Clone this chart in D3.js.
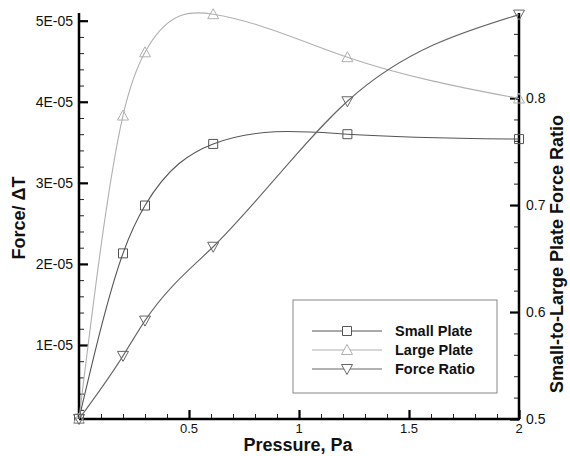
<!DOCTYPE html>
<meta charset="utf-8">
<script src="https://d3js.org/d3.v7.min.js"></script>
<style>
   body {
      background-color: white;
      margin: 0;
      padding: 0;
   }
   svg text {
      font-family: "Liberation Sans", Arial, sans-serif;
      fill: #111;
   }
</style>
<body>
<svg id="chart" width="570" height="456"></svg>
<script>

   // values
   var pressure = [0, 0.2, 0.3, 0.61, 1.22, 2];
   var smallPlate = [0.09e-5, 2.13e-5, 2.72e-5, 3.48e-5, 3.60e-5, 3.54e-5];
   var largePlate = [0.09e-5, 3.83e-5, 4.61e-5, 5.08e-5, 4.55e-5, 4.04e-5];
   var forceRatio = [0.5, 0.559, 0.592, 0.661, 0.797, 0.878];

   var xTicks = [0.5, 1, 1.5, 2];
   var yLeftTicks = [1e-5, 2e-5, 3e-5, 4e-5, 5e-5];
   var yLeftLabels = ["1E-05", "2E-05", "3E-05", "4E-05", "5E-05"];
   var yRightTicks = [0.5, 0.6, 0.7, 0.8];
   var legendNames = ["Small Plate", "Large Plate", "Force Ratio"];

   var svg = d3.select("#chart");
   var pLeft = 79, pRight = 519, pTop = 13, pBottom = 419;

   var x = d3.scaleLinear().domain([0, 2]).range([pLeft, pRight]);
   var yL = d3.scaleLinear().domain([0.087e-5, 5.095e-5]).range([pBottom, pTop]);
   var yR = d3.scaleLinear().domain([0.5, 0.8795]).range([pBottom, pTop]);

   // cubic spline in x (like the plotting program's spline), as a d3 curve
   function splineX(context) {
      var xs, ys;
      return {
         lineStart: function () { xs = []; ys = []; },
         lineEnd: function () {
            var n = xs.length, i;
            var h = [], M = new Array(n).fill(0);
            for (i = 0; i < n - 1; i++) h.push(xs[i + 1] - xs[i]);
            // tridiagonal solve for second derivatives, natural ends
            var a = [], b = [], c = [], r = [];
            for (i = 1; i < n - 1; i++) {
               a.push(h[i - 1]); b.push(2 * (h[i - 1] + h[i])); c.push(h[i]);
               r.push(6 * ((ys[i + 1] - ys[i]) / h[i] - (ys[i] - ys[i - 1]) / h[i - 1]));
            }
            var m = b.length;
            for (i = 1; i < m; i++) {
               var w = a[i] / b[i - 1];
               b[i] -= w * c[i - 1]; r[i] -= w * r[i - 1];
            }
            var sol = new Array(m);
            for (i = m - 1; i >= 0; i--) sol[i] = (r[i] - (i < m - 1 ? c[i] * sol[i + 1] : 0)) / b[i];
            for (i = 0; i < m; i++) M[i + 1] = sol[i];
            context.moveTo(xs[0], ys[0]);
            for (i = 0; i < n - 1; i++) {
               var s = (ys[i + 1] - ys[i]) / h[i];
               var d0 = s - h[i] * (2 * M[i] + M[i + 1]) / 6;
               var d1 = s + h[i] * (M[i] + 2 * M[i + 1]) / 6;
               context.bezierCurveTo(xs[i] + h[i] / 3, ys[i] + d0 * h[i] / 3,
                  xs[i + 1] - h[i] / 3, ys[i + 1] - d1 * h[i] / 3, xs[i + 1], ys[i + 1]);
            }
         },
         point: function (px, py) { xs.push(px); ys.push(py); },
         areaStart: function () {}, areaEnd: function () {}
      };
   }

   // axes, ticks pointing inward
   svg.append("g").attr("class", "minor").attr("transform", "translate(0," + pBottom + ")")
      .call(d3.axisTop(x).tickValues(d3.range(0, 2.001, 0.1)).tickSize(5).tickFormat(""));
   svg.append("g").attr("class", "major").attr("transform", "translate(0," + pBottom + ")")
      .call(d3.axisTop(x).tickValues([0, 0.5, 1, 1.5, 2]).tickSize(9).tickFormat(""));

   svg.append("g").attr("class", "minor").attr("transform", "translate(" + pLeft + ",0)")
      .call(d3.axisRight(yL).tickValues(d3.range(2e-6, 5.01e-5, 2e-6)).tickSize(5).tickFormat(""));
   svg.append("g").attr("class", "major").attr("transform", "translate(" + pLeft + ",0)")
      .call(d3.axisRight(yL).tickValues(yLeftTicks).tickSize(9).tickFormat(""));

   svg.append("g").attr("class", "minor").attr("transform", "translate(" + pRight + ",0)")
      .call(d3.axisLeft(yR).tickValues(d3.range(0.52, 0.88, 0.02)).tickSize(5).tickFormat(""));
   svg.append("g").attr("class", "major").attr("transform", "translate(" + pRight + ",0)")
      .call(d3.axisLeft(yR).tickValues(yRightTicks).tickSize(9).tickFormat(""));

   svg.selectAll(".domain").remove();
   svg.selectAll(".minor .tick line").attr("stroke", "#222").attr("stroke-width", 1);
   svg.selectAll(".major .tick line").attr("stroke", "#000").attr("stroke-width", 2.2);

   // axis lines
   svg.append("line").attr("x1", pLeft).attr("x2", pRight + 1).attr("y1", pBottom).attr("y2", pBottom)
      .attr("stroke", "#000").attr("stroke-width", 2.5);
   svg.append("line").attr("x1", pLeft).attr("x2", pLeft).attr("y1", pTop).attr("y2", pBottom)
      .attr("stroke", "#000").attr("stroke-width", 2.5);
   svg.append("line").attr("x1", pRight).attr("x2", pRight).attr("y1", pTop).attr("y2", pBottom)
      .attr("stroke", "#000").attr("stroke-width", 2.5);

   // tick labels
   svg.selectAll(".xl").data(xTicks).enter().append("text")
      .attr("x", function (d) { return x(d); }).attr("y", pBottom + 14)
      .attr("text-anchor", "middle").attr("font-size", 13).text(function (d) { return d; });
   svg.selectAll(".yl").data(yLeftTicks).enter().append("text")
      .attr("x", pLeft - 6).attr("y", function (d) { return yL(d) + 5; })
      .attr("text-anchor", "end").attr("font-size", 14)
      .text(function (d, i) { return yLeftLabels[i]; });
   svg.selectAll(".yr").data(yRightTicks).enter().append("text")
      .attr("x", pRight + 7).attr("y", function (d) { return yR(d) + 5; })
      .attr("font-size", 14).text(function (d) { return d; });

   // axis titles
   svg.append("text").attr("x", 298).attr("y", 451).attr("text-anchor", "middle")
      .attr("font-size", 18).attr("font-weight", "bold").text("Pressure, Pa");
   svg.append("text").attr("transform", "translate(25,218) rotate(-90)").attr("text-anchor", "middle")
      .attr("font-size", 18).attr("font-weight", "bold").text("Force/ \u0394T");
   svg.append("text").attr("transform", "translate(563,254) rotate(-90)").attr("text-anchor", "middle")
      .attr("font-size", 18).attr("font-weight", "bold").text("Small-to-Large Plate Force Ratio");

   var series = [
      { vals: smallPlate, y: yL, color: "#555", marker: "square" },
      { vals: largePlate, y: yL, color: "#b0b0b0", marker: "up" },
      { vals: forceRatio, y: yR, color: "#666", marker: "down" }
   ];

   function markerPath(type) {
      if (type == "square") return "M-4.5,-4.5H4.5V4.5H-4.5Z";
      if (type == "up") return "M0,-5.5L5.5,4.5H-5.5Z";
      return "M0,5.5L5.5,-4.5H-5.5Z";
   }

   series.forEach(function (s) {
      var pts = pressure.map(function (p, i) { return [x(p), s.y(s.vals[i])]; });
      svg.append("path")
         .attr("d", d3.line().curve(splineX)(pts))
         .attr("fill", "none").attr("stroke", s.color).attr("stroke-width", 1.1);
      svg.selectAll(null).data(pts).enter().append("path")
         .attr("transform", function (d) { return "translate(" + d[0] + "," + d[1] + ")"; })
         .attr("d", markerPath(s.marker))
         .attr("fill", "none").attr("stroke", s.color).attr("stroke-width", 1);
   });

   // legend
   var lg = svg.append("g");
   lg.append("rect").attr("x", 293).attr("y", 300).attr("width", 204).attr("height", 93)
      .attr("fill", "white").attr("stroke", "#888").attr("stroke-width", 1);
   legendNames.forEach(function (name, i) {
      var ly = 331 + i * 19;
      lg.append("line").attr("x1", 312).attr("x2", 382).attr("y1", ly).attr("y2", ly)
         .attr("stroke", series[i].color).attr("stroke-width", 1.1);
      lg.append("path").attr("transform", "translate(347," + ly + ")")
         .attr("d", markerPath(series[i].marker))
         .attr("fill", "white").attr("stroke", series[i].color).attr("stroke-width", 1);
      lg.append("text").attr("x", 395).attr("y", ly + 5).attr("font-size", 14.5)
         .attr("font-weight", "bold").text(name);
   });

</script>
</body>
